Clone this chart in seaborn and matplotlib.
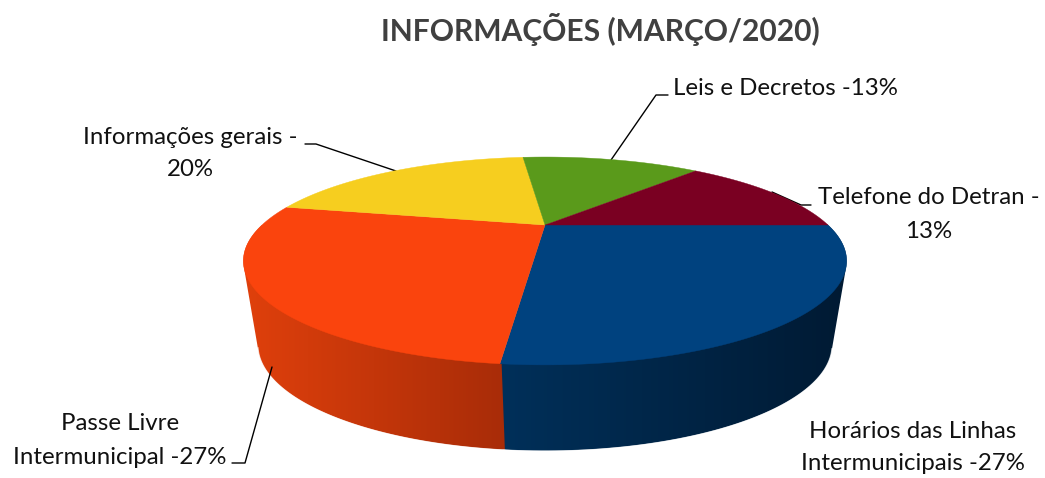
#!/usr/bin/env python

import matplotlib
matplotlib.use("Agg")
import matplotlib.pyplot as plt
from matplotlib.path import Path
import numpy as np
import seaborn as sns

sns.set_theme(style="white")
plt.rcParams['font.family'] = ['Lato', 'DejaVu Sans']

title = "INFORMAÇÕES (MARÇO/2020)"
categories = ["Horários das Linhas Intermunicipais", "Passe Livre Intermunicipal",
              "Informações gerais", "Leis e Decretos", "Telefone do Detran"]
counts = [4, 4, 3, 2, 2]
top_colors = ["#00427F", "#FA440D", "#F6CE1F", "#5A9A1B", "#7A0022"]
side_left = ["#00305A", "#E0400C", "#C09A10", "#40700F", "#50001A"]
side_right = ["#001A33", "#A82C08", "#C09A10", "#40700F", "#50001A"]


# perspective of a disc: (x centre, y of disc centre, x radius, y radius, tilt)
TOP = (545, 225, 283, 91.5, 0.346)
BOTTOM = (545, 311, 272, 95, 0.32)


def project(t, disc):
    cx, cy, rx, ry, k = disc
    d = 1 + k * np.sin(t)
    return cx + rx * np.cos(t) / d, cy - ry * np.sin(t) / d


def hull(points):
    # monotone chain, the side wall outline is convex
    points = sorted(set(points))
    out = []
    for seq in (points, points[::-1]):
        part = []
        for p in seq:
            while len(part) > 1 and ((part[-1][0] - part[-2][0]) * (p[1] - part[-2][1])
                                     - (part[-1][1] - part[-2][1]) * (p[0] - part[-2][0])) <= 0:
                part.pop()
            part.append(p)
        out += part[:-1]
    return out + out[:1]


fig = plt.figure(figsize=(10.45, 4.78), dpi=100)
ax = fig.add_axes([0, 0, 1, 1])

# slices go clockwise from 3 o'clock
edges = -np.cumsum([0] + counts) / np.sum(counts) * 2 * np.pi

## side wall, only the front of the pie shows
for i in range(len(counts)):
    t0, t1 = edges[i], max(edges[i + 1], -np.pi)
    if t0 <= -np.pi:
        continue
    # tiny overlap so no gap shows between two slices
    ts = np.linspace(t0 + 0.004, t1, 90)
    tx, ty = project(ts, TOP)
    bx, by = project(ts, BOTTOM)
    outline = hull(list(zip(tx, ty)) + list(zip(bx, by)))
    x0 = min(tx.min(), bx.min()) - 1
    x1 = max(tx.max(), bx.max()) + 1
    # gradient runs across the picture, left to right
    shades = np.array(sns.blend_palette([side_left[i], side_right[i]], 256)).reshape(1, 256, -1)
    im = ax.imshow(shades, extent=(x0, x1, by.max() + 2, ty.min() - 2), aspect="auto",
                   interpolation="bilinear", zorder=1)
    im.set_clip_path(Path(outline, closed=True), transform=ax.transData)
    # soften the cut edge, front part only
    front = by > 347
    ax.plot(bx[front], by[front] + 0.4, color="white", lw=0.9, alpha=0.7, zorder=1.5)

ax.set_xlim(0, 1045)
ax.set_ylim(478, 0)
ax.axis("off")

## top face
for i in range(len(counts)):
    ts = np.linspace(edges[i], edges[i + 1], 120)
    xs, ys = project(ts, TOP)
    ax.fill(np.r_[TOP[0], xs], np.r_[TOP[1], ys], color=top_colors[i], lw=0.3, zorder=3)

## leader lines
ax.plot([305, 316, 396], [144, 144, 171], color="black", lw=1, zorder=2)
ax.plot([668, 656, 611], [95, 95, 160], color="black", lw=1, zorder=2)
ax.plot([811, 801, 772], [205, 205, 192], color="black", lw=1, zorder=2)
ax.plot([232, 245, 272], [463, 463, 367], color="black", lw=1, zorder=2)

## labels
fs = 17.3
col = "#111111"
ax.text(600, 29, title, ha="center", va="center", fontsize=21.6, fontweight="bold", color="#404040")
ax.text(785, 88, "Leis e Decretos -13%", ha="center", va="center", fontsize=fs, color=col)
ax.text(190, 137, "Informações gerais -", ha="center", va="center", fontsize=fs, color=col)
ax.text(190, 170, "20%", ha="center", va="center", fontsize=fs, color=col)
ax.text(929, 198, "Telefone do Detran -", ha="center", va="center", fontsize=fs, color=col)
ax.text(929, 231, "13%", ha="center", va="center", fontsize=fs, color=col)
ax.text(120, 424, "Passe Livre", ha="center", va="center", fontsize=fs, color=col)
ax.text(120, 457, "Intermunicipal -27%", ha="center", va="center", fontsize=fs, color=col)
ax.text(913, 431, "Horários das Linhas", ha="center", va="center", fontsize=fs, color=col)
ax.text(913, 464, "Intermunicipais -27%", ha="center", va="center", fontsize=fs, color=col)

fig.savefig("out.png", dpi=100)
